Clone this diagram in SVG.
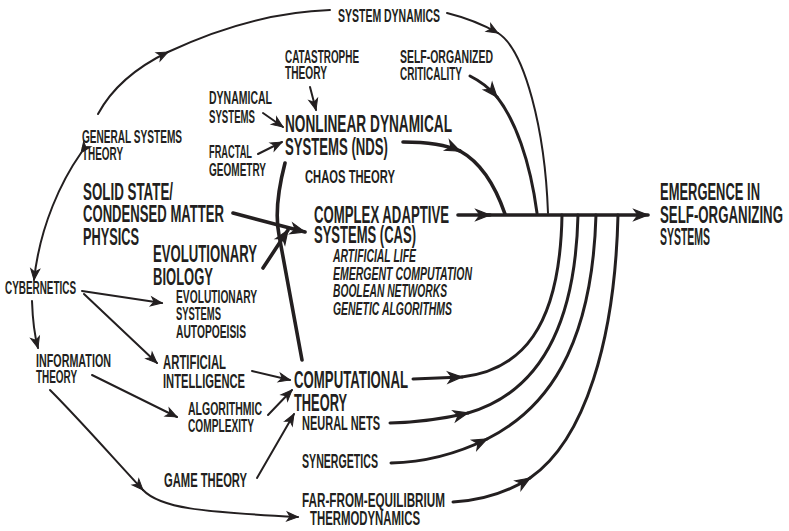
<svg xmlns="http://www.w3.org/2000/svg" width="789" height="531" viewBox="0 0 789 531">
<style>
text{font-family:"Liberation Sans Narrow","Liberation Sans",Arial,sans-serif;font-weight:bold;fill:#231f20}
.s{font-size:18px}
.m{font-size:20px}
.l{font-size:23px}
.i{font-size:18px;font-style:italic}
.c path{fill:none;stroke:#231f20;stroke-linecap:round}
.t{stroke-width:2}
.k{stroke-width:3.6}
.h{stroke-width:3}
</style>
<defs>
<marker id="a" markerUnits="userSpaceOnUse" markerWidth="14" markerHeight="12" refX="12" refY="6" orient="auto" overflow="visible">
<path d="M1,1.5 L12,6 L1,10.5 L4,6 Z" fill="#231f20" stroke="#231f20" stroke-width="1" stroke-linejoin="miter"/>
</marker>
<marker id="b" markerUnits="userSpaceOnUse" markerWidth="18" markerHeight="14" refX="15" refY="7" orient="auto" overflow="visible">
<path d="M1,1.5 L15,7 L1,12.5 L5,7 Z" fill="#231f20" stroke="#231f20" stroke-width="1.2" stroke-linejoin="miter"/>
</marker>
</defs>
<rect width="789" height="531" fill="#ffffff"/>
<g id="connectors" class="c">
<path class="t" d="M98,114 C112,88 135,68 168,52" marker-end="url(#a)"/>
<path class="t" d="M168,52 C215,30 270,12 330,10"/>
<path class="t" d="M447,13 Q475,20 498,33" marker-end="url(#a)"/>
<path class="t" d="M498,33 C525,50 545,130 548,213"/>
<path class="h" d="M470,76 Q486,84 497,97" marker-end="url(#b)"/>
<path class="h" d="M497,97 C515,120 530,160 537,213"/>
<path class="k" d="M403,142 Q440,142 460,151" marker-end="url(#b)"/>
<path class="k" d="M460,151 C480,162 495,185 505,214"/>
<path class="k" d="M458,215 L490,215" marker-end="url(#b)"/>
<path class="k" d="M488,215 L648,215" marker-end="url(#b)"/>
<path class="h" d="M413,379 L462,377" marker-end="url(#b)"/>
<path class="h" d="M462,377 C520,370 560,330 562,215"/>
<path class="h" d="M390,423 Q430,422 468,413" marker-end="url(#b)"/>
<path class="h" d="M468,413 C530,395 575,340 578,215"/>
<path class="h" d="M391,463 Q440,462 487,439" marker-end="url(#b)"/>
<path class="h" d="M487,439 C545,410 592,350 596,215"/>
<path class="h" d="M453,502 Q495,500 530,478" marker-end="url(#b)"/>
<path class="h" d="M530,478 C585,440 615,340 618,215"/>
<path class="k" d="M285,163 C278,190 275,215 279,235 L302,360"/>
<path class="k" d="M233,213 L305,232" marker-end="url(#b)"/>
<path class="k" d="M263,268 L288,230" marker-end="url(#b)"/>
<path class="t" d="M310,87 L316,110" marker-end="url(#a)"/>
<path class="t" d="M263,113 L283,127" marker-end="url(#a)"/>
<path class="t" d="M258,154 L282,142" marker-end="url(#a)"/>
<path class="t" d="M81,153 C62,180 40,225 34,280" marker-start="url(#a)" marker-end="url(#a)"/>
<path class="t" d="M32,301 Q33,330 38,348" marker-end="url(#a)"/>
<path class="t" d="M82,291 L162,303" marker-end="url(#a)"/>
<path class="t" d="M84,294 L157,363" marker-end="url(#a)"/>
<path class="t" d="M92,375 L177,417" marker-end="url(#a)"/>
<path class="t" d="M252,371 L290,380" marker-end="url(#a)"/>
<path class="t" d="M268,415 L292,390" marker-end="url(#a)"/>
<path class="t" d="M257,478 L294,414" marker-end="url(#a)"/>
<path class="t" d="M50,390 C80,420 115,460 143,490" marker-end="url(#a)"/>
<path class="t" d="M143,490 C160,508 200,512 298,517" marker-end="url(#a)"/>
</g>
<g id="n-sd"><text class="s" x="338" y="22" textLength="102" lengthAdjust="spacingAndGlyphs">SYSTEM DYNAMICS</text></g>
<g id="n-cat"><text class="s" x="285" y="63" textLength="74" lengthAdjust="spacingAndGlyphs">CATASTROPHE</text><text class="s" x="285" y="79" textLength="42" lengthAdjust="spacingAndGlyphs">THEORY</text></g>
<g id="n-dyn"><text class="s" x="209" y="104" textLength="63" lengthAdjust="spacingAndGlyphs">DYNAMICAL</text><text class="s" x="209" y="123" textLength="46" lengthAdjust="spacingAndGlyphs">SYSTEMS</text></g>
<g id="n-nds"><text class="l" x="285" y="132" textLength="167" lengthAdjust="spacingAndGlyphs">NONLINEAR DYNAMICAL</text><text class="l" x="285" y="155" textLength="103" lengthAdjust="spacingAndGlyphs">SYSTEMS (NDS)</text></g>
<g id="n-gst"><text class="s" x="82" y="143" textLength="100" lengthAdjust="spacingAndGlyphs">GENERAL SYSTEMS</text><text class="s" x="82" y="160" textLength="41" lengthAdjust="spacingAndGlyphs">THEORY</text></g>
<g id="n-frac"><text class="s" x="209" y="158" textLength="43" lengthAdjust="spacingAndGlyphs">FRACTAL</text><text class="s" x="209" y="176" textLength="57" lengthAdjust="spacingAndGlyphs">GEOMETRY</text></g>
<g id="n-chaos"><text class="s" x="305" y="183" textLength="90" lengthAdjust="spacingAndGlyphs">CHAOS THEORY</text></g>
<g id="n-solid"><text class="l" x="83" y="200" textLength="90" lengthAdjust="spacingAndGlyphs">SOLID STATE/</text><text class="l" x="83" y="222" textLength="141" lengthAdjust="spacingAndGlyphs">CONDENSED MATTER</text><text class="l" x="83" y="245" textLength="56" lengthAdjust="spacingAndGlyphs">PHYSICS</text></g>
<g id="n-cas"><text class="l" x="314" y="223" textLength="135" lengthAdjust="spacingAndGlyphs">COMPLEX ADAPTIVE</text><text class="l" x="314" y="243" textLength="102" lengthAdjust="spacingAndGlyphs">SYSTEMS (CAS)</text>
<text class="i" x="333" y="262" textLength="83" lengthAdjust="spacingAndGlyphs">ARTIFICIAL LIFE</text><text class="i" x="333" y="280" textLength="139" lengthAdjust="spacingAndGlyphs">EMERGENT COMPUTATION</text><text class="i" x="333" y="297" textLength="114" lengthAdjust="spacingAndGlyphs">BOOLEAN NETWORKS</text><text class="i" x="333" y="315" textLength="119" lengthAdjust="spacingAndGlyphs">GENETIC ALGORITHMS</text></g>
<g id="n-evo"><text class="l" x="153" y="262" textLength="104" lengthAdjust="spacingAndGlyphs">EVOLUTIONARY</text><text class="l" x="153" y="285" textLength="60" lengthAdjust="spacingAndGlyphs">BIOLOGY</text></g>
<g id="n-emerg"><text class="l" x="660" y="200" textLength="100" lengthAdjust="spacingAndGlyphs">EMERGENCE IN</text><text class="l" x="660" y="223" textLength="123" lengthAdjust="spacingAndGlyphs">SELF-ORGANIZING</text><text class="l" x="660" y="245" textLength="50" lengthAdjust="spacingAndGlyphs">SYSTEMS</text></g>
<g id="n-soc"><text class="s" x="400" y="63" textLength="93" lengthAdjust="spacingAndGlyphs">SELF-ORGANIZED</text><text class="s" x="400" y="80" textLength="62" lengthAdjust="spacingAndGlyphs">CRITICALITY</text></g>
<g id="n-cyb"><text class="s" x="5" y="294" textLength="71" lengthAdjust="spacingAndGlyphs">CYBERNETICS</text></g>
<g id="n-evs"><text class="s" x="176" y="303" textLength="81" lengthAdjust="spacingAndGlyphs">EVOLUTIONARY</text><text class="s" x="176" y="320" textLength="45" lengthAdjust="spacingAndGlyphs">SYSTEMS</text><text class="s" x="176" y="338" textLength="70" lengthAdjust="spacingAndGlyphs">AUTOPOEISIS</text></g>
<g id="n-info"><text class="s" x="36" y="367" textLength="75" lengthAdjust="spacingAndGlyphs">INFORMATION</text><text class="s" x="36" y="383" textLength="41" lengthAdjust="spacingAndGlyphs">THEORY</text></g>
<g id="n-ai"><text class="m" x="163" y="369" textLength="63" lengthAdjust="spacingAndGlyphs">ARTIFICIAL</text><text class="m" x="163" y="388" textLength="82" lengthAdjust="spacingAndGlyphs">INTELLIGENCE</text></g>
<g id="n-comp"><text class="l" x="294" y="388" textLength="114" lengthAdjust="spacingAndGlyphs">COMPUTATIONAL</text><text class="l" x="294" y="411" textLength="53" lengthAdjust="spacingAndGlyphs">THEORY</text></g>
<g id="n-alg"><text class="s" x="188" y="415" textLength="74" lengthAdjust="spacingAndGlyphs">ALGORITHMIC</text><text class="s" x="188" y="432" textLength="66" lengthAdjust="spacingAndGlyphs">COMPLEXITY</text></g>
<g id="n-nn"><text class="m" x="302" y="430" textLength="78" lengthAdjust="spacingAndGlyphs">NEURAL NETS</text></g>
<g id="n-syn"><text class="m" x="302" y="468" textLength="76" lengthAdjust="spacingAndGlyphs">SYNERGETICS</text></g>
<g id="n-game"><text class="m" x="164" y="487" textLength="83" lengthAdjust="spacingAndGlyphs">GAME THEORY</text></g>
<g id="n-far"><text class="m" x="302" y="507" textLength="143" lengthAdjust="spacingAndGlyphs">FAR-FROM-EQUILIBRIUM</text><text class="m" x="310" y="525" textLength="110" lengthAdjust="spacingAndGlyphs">THERMODYNAMICS</text></g>
</svg>
